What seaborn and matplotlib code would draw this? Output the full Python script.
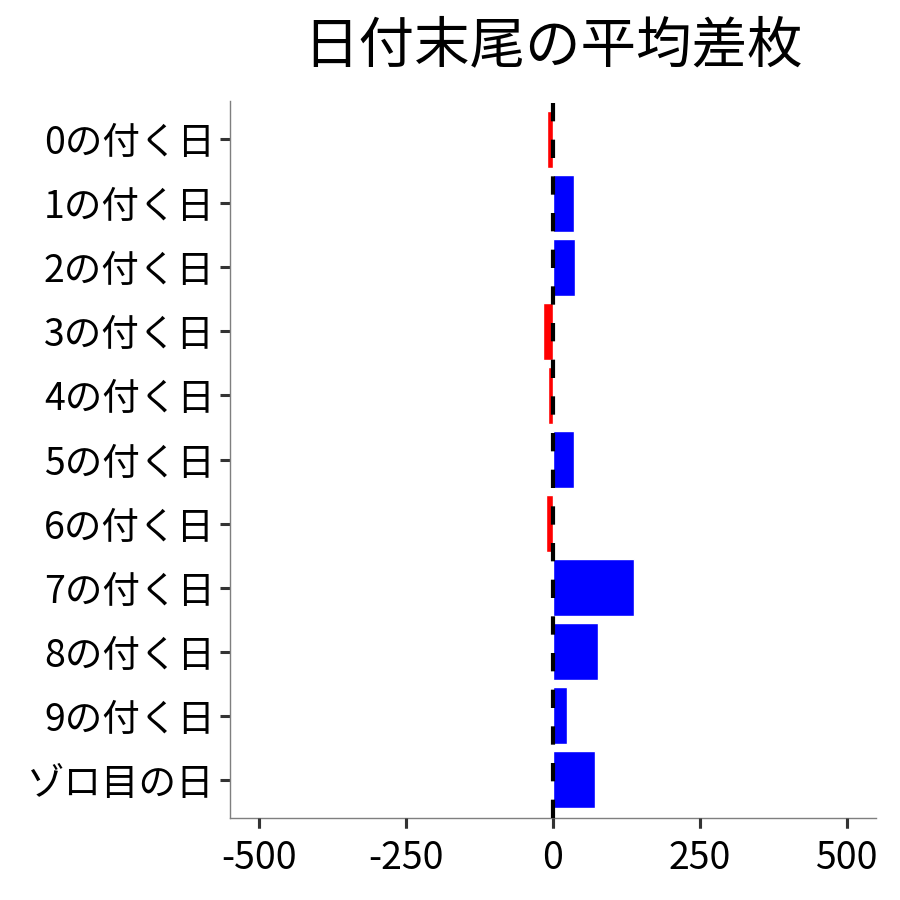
import numpy as np
import pandas as pd
import seaborn as sns
import matplotlib
matplotlib.use("Agg")
import matplotlib.pyplot as plt
import matplotlib.transforms as mtransforms

# data
days = ["0の付く日", "1の付く日", "2の付く日", "3の付く日", "4の付く日",
        "5の付く日", "6の付く日", "7の付く日", "8の付く日", "9の付く日", "ゾロ目の日"]
diff = [-10, 35, 38, -17, -8, 36, -12, 138, 76, 23, 71]
xticks = [-500, -250, 0, 250, 500]

df = pd.DataFrame({"day": days, "diff": diff})
df["sign"] = np.where(df["diff"] < 0, "neg", "pos")

sns.set_theme(style="ticks")
plt.rcParams["font.family"] = ["Noto Sans CJK JP", "DejaVu Sans"]

fig = plt.figure(figsize=(9, 9), dpi=100)
ax = fig.add_axes([230 / 900, 82 / 900, 646 / 900, 717 / 900])

sns.barplot(
    data=df, x="diff", y="day", hue="sign", order=days,
    palette={"neg": "#FF0000", "pos": "#0000FF"},
    orient="h", width=0.9, legend=False, ax=ax, saturation=1,
)
ax.axvline(0, color="black", lw=3, ls=(0, (4.4, 4.4)), zorder=5)

ax.set_xlim(-550, 550)
ax.set_ylim(len(days) - 0.4, -0.6)
ax.set_xticks(xticks)
ax.set_xticklabels([str(v) for v in xticks])
ax.set_xlabel("")
ax.set_ylabel("")
ax.set_title("日付末尾の平均差枚", fontsize=40, pad=28, color="black")

for side in ["top", "right"]:
    ax.spines[side].set_visible(False)
for side in ["left", "bottom"]:
    ax.spines[side].set_color("#7f7f7f")
    ax.spines[side].set_linewidth(1)
ax.tick_params(axis="both", which="major", direction="out", length=7, width=2.2,
               color="#333333", labelsize=27, labelcolor="black")
ax.tick_params(axis="x", bottom=True, top=False, pad=8)
ax.tick_params(axis="y", left=True, right=False, pad=4)

# bottom tick marks kept going missing, draw them under the spine explicitly
trans = mtransforms.blended_transform_factory(ax.transData, ax.transAxes)
ax.plot(xticks, [0] * len(xticks), ls="none", marker=3, markersize=7,
        markeredgewidth=2.2, color="#333333", transform=trans, clip_on=False, zorder=3)

fig.savefig("out.png", dpi=100)
